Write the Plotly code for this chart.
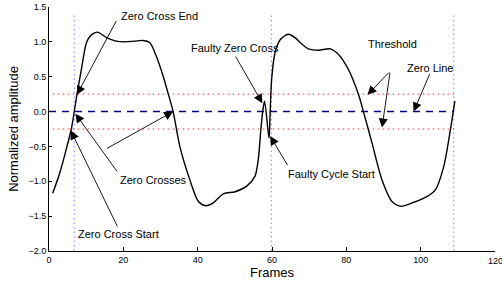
import plotly.graph_objects as go

# Signal (frames vs normalized amplitude)
frames = [1.0, 2.9, 4.4, 6.0, 6.8, 7.5, 8.7, 10.1, 11.4, 13.0, 15.5, 18.0, 20.4, 23.0, 25.3, 27.1,
          28.9, 30.7, 32.0, 33.4, 35.2, 37.9, 40.2, 42.2, 44.2, 46.9, 50.1, 53.2, 55.4, 56.3,
          57.0, 57.5, 58.0, 59.2, 59.5, 59.9, 60.8, 62.2, 64.4, 66.2, 68.0, 69.8, 72.5, 75.7,
          77.9, 80.6, 83.3, 84.6, 86.9, 89.6, 92.3, 94.8, 97.7, 101.7, 104.0, 106.2, 108.0, 109.2]
amplitude = [-1.17, -0.88, -0.59, -0.25, 0.0, 0.24, 0.6, 0.99, 1.1, 1.14, 1.06, 1.01, 1.0, 1.01, 1.02, 0.99,
             0.79, 0.51, 0.27, 0.0, -0.5, -0.98, -1.29, -1.35, -1.31, -1.18, -1.15, -1.07, -0.93, -0.69,
             -0.26, 0.0, 0.15, -0.38, -0.02, 0.46, 0.84, 1.03, 1.11, 1.06, 0.97, 0.9, 0.88, 0.9,
             0.82, 0.6, 0.24, 0.0, -0.45, -0.98, -1.29, -1.36, -1.31, -1.22, -1.12, -0.79, -0.26, 0.15]

threshold = 0.25
zero_line_x = [0, 109]
threshold_x = [1, 109]
cycle_marks = [6.8, 59.8, 108.9]
cycle_mark_y = [-2.0, 1.4]

x_ticks = [0, 20, 40, 60, 80, 100, 120]
y_ticks = [-2, -1.5, -1, -0.5, 0, 0.5, 1, 1.5]

# Labels: (text, x, y)
label_texts = ["Zero Cross End", "Zero Crosses", "Zero Cross Start", "Faulty Zero Cross",
               "Faulty Cycle Start", "Threshold", "Zero Line"]
label_x = [29.6, 28.2, 18.75, 50.0, 75.9, 92.5, 102.6]
label_y = [1.37, -0.98, -1.75, 0.91, -0.90, 0.97, 0.63]

# Arrows: tail -> head
arrow_tail_x = [18.3, 18.6, 15.2, 18.6, 50.0, 64.4, 91.8, 91.8, 102.6]
arrow_tail_y = [1.32, -0.88, -0.54, -1.67, 0.81, -0.79, 0.58, 0.58, 0.56]
arrow_head_x = [7.5, 7.1, 33.4, 5.85, 57.4, 59.5, 85.7, 89.6, 98.1]
arrow_head_y = [0.24, -0.03, 0.0, -0.27, 0.12, -0.35, 0.24, -0.23, 0.0]

fig = go.Figure()

for xm in cycle_marks:
    fig.add_trace(go.Scatter(x=[xm, xm], y=cycle_mark_y, mode="lines",
                             line=dict(color="#7f7fff", width=1, dash="1.5px,3px"),
                             hoverinfo="skip", showlegend=False))
for ty in (threshold, -threshold):
    fig.add_trace(go.Scatter(x=threshold_x, y=[ty, ty], mode="lines",
                             line=dict(color="#ff3030", width=1, dash="1.5px,3.5px"),
                             hoverinfo="skip", showlegend=False))
fig.add_trace(go.Scatter(x=zero_line_x, y=[0, 0], mode="lines",
                         line=dict(color="#000080", width=1.6, dash="7px,6px"),
                         hoverinfo="skip", showlegend=False))
fig.add_trace(go.Scatter(x=frames, y=amplitude, mode="lines",
                         line=dict(color="black", width=1.4, shape="spline", smoothing=0.8),
                         showlegend=False))

for t, lx, ly in zip(label_texts, label_x, label_y):
    fig.add_annotation(x=lx, y=ly, text=t, showarrow=False,
                       font=dict(family="Liberation Sans, Arial", size=11, color="black"))

for tx, ty, hx, hy in zip(arrow_tail_x, arrow_tail_y, arrow_head_x, arrow_head_y):
    fig.add_annotation(x=hx, y=hy, ax=tx, ay=ty, axref="x", ayref="y", text="",
                       showarrow=True, arrowhead=2, arrowsize=2.0, arrowwidth=0.9,
                       arrowcolor="black")

# last x tick label (runs past the right edge, as in the reference)
fig.add_annotation(x=x_ticks[-1], xref="x", y=0, yref="paper", yanchor="top", yshift=-3,
                   text=str(x_ticks[-1]), showarrow=False,
                   font=dict(family="Liberation Sans, Arial", size=9, color="black"))

fig.update_layout(
    width=502, height=285,
    margin=dict(l=49, r=7, t=7, b=33.5),
    paper_bgcolor="white", plot_bgcolor="white",
    font=dict(family="Liberation Sans, Arial", color="black", size=9),
    xaxis=dict(range=[0, 120], tickvals=x_ticks,
               ticks="inside", ticklen=4, tickcolor="black", showline=True,
               linecolor="black", linewidth=1, showgrid=False, zeroline=False,
               tickfont=dict(size=9), automargin=False,
               title=dict(text="Frames", font=dict(size=13), standoff=2)),
    yaxis=dict(range=[-2, 1.5], tickvals=y_ticks,
               tickformat=".1f", ticks="inside", ticklen=3, tickcolor="black",
               showline=True, linecolor="black", linewidth=1, showgrid=False,
               zeroline=False, tickfont=dict(size=9), automargin=False,
               title=dict(text="Normalized amplitude", font=dict(size=13), standoff=6)),
)

fig.write_html("out.html", config={"displayModeBar": False},
               post_script="document.body.style.margin='0';")
